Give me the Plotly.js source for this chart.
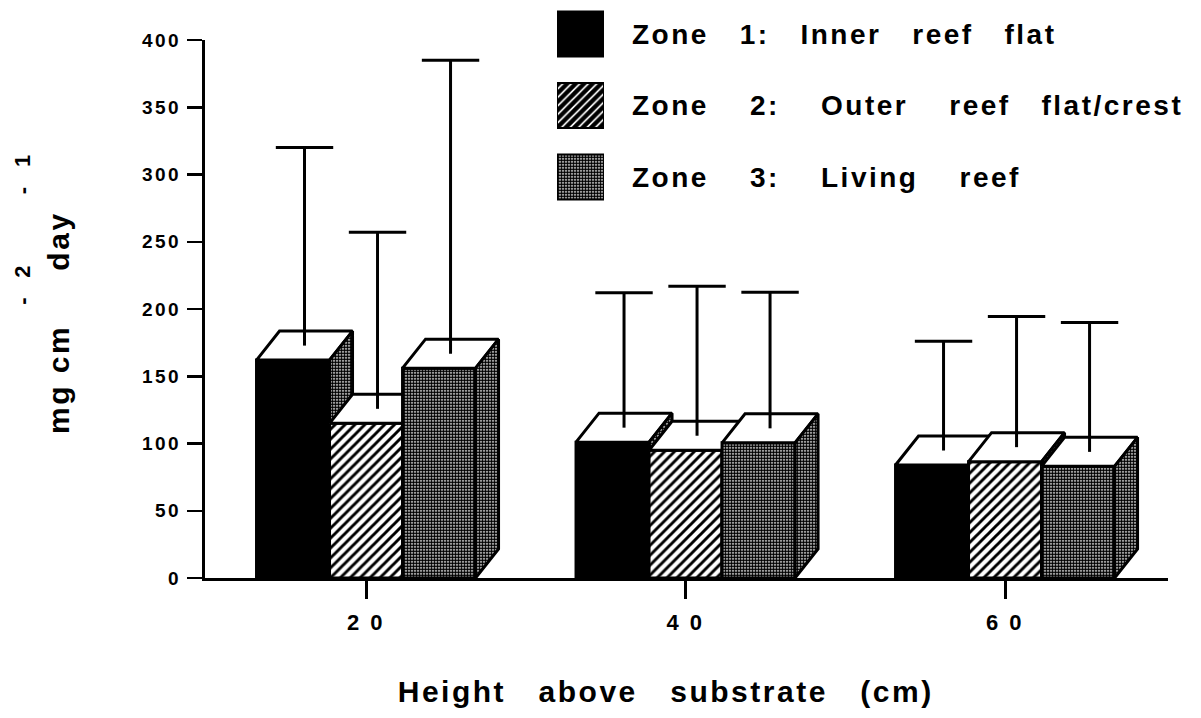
<!DOCTYPE html>
<html>
<head>
<meta charset="utf-8">
<script src="https://cdn.plot.ly/plotly-3.0.1.min.js"></script>
<style>
  html, body { margin: 0; padding: 0; background: #ffffff; }
  #chart { width: 1201px; height: 718px; }
  .js-plotly-plot .plotly text { letter-spacing: 2.5px; }
</style>
</head>
<body>
<div id="chart"></div>
<script>
// ---------------- data ----------------
const categories = ['20', '40', '60'];              // height above substrate (cm)
const zoneNames = ['Zone 1: Inner reef flat', 'Zone 2: Outer reef flat/crest', 'Zone 3: Living reef'];
const zone1Mean = [162, 101, 84];
const zone2Mean = [115, 95, 86.5];
const zone3Mean = [156, 100.5, 83];
const zone1SD = [158, 111, 92];
const zone2SD = [142, 122, 108];
const zone3SD = [229, 112, 107];
const xTitle = 'Height above substrate (cm)';
const yUnits = ['mg', 'cm', 'day'];
const yExponents = ['', '-2', '-1'];

// ---------------- style ----------------
const W = 1201, H = 718;
const M = { l: 205, r: 33, t: 5, b: 140 };
const plotW = W - M.l - M.r;
const plotH = H - M.t - M.b;
const mainAxisPx = 538;                 // pixel height of the 0..400 y axis
const yRange = [0, 400];
const xRange = [-0.504, 2.51];
const BAR_GAP = 0.3145;
const DEPTH_X_PX = 23, DEPTH_Y_PX = 29;
const CAP_PX = 41;
const FONT = 'Liberation Sans, Arial, Helvetica, sans-serif';
const NB = '\u00A0';
const pxToPaperX = px => (px - M.l) / plotW;
const pxToPaperY = py => (H - M.b - py) / plotH;

const means = [zone1Mean, zone2Mean, zone3Mean];
const sds = [zone1SD, zone2SD, zone3SD];
const nZ = means.length;
const barW = (1 - BAR_GAP) / nZ;
const dx = DEPTH_X_PX * (xRange[1] - xRange[0]) / plotW;
const dy = DEPTH_Y_PX * (yRange[1] - yRange[0]) / mainAxisPx;

const stipple = { shape: '.', fgcolor: '#000000', bgcolor: '#ffffff', size: 3, solidity: 0.72 };
const hatch = { shape: '/', fgcolor: '#000000', bgcolor: '#ffffff', size: 7, solidity: 0.42 };
const frontStyles = [
  { fillcolor: '#000000' },
  { fillcolor: '#ffffff', fillpattern: hatch },
  { fillcolor: '#ffffff', fillpattern: stipple }
];
const outline = { color: '#000000', width: 3 };

function polyTrace(xs, ys, style) {
  return Object.assign({
    type: 'scatter', mode: 'lines', x: xs, y: ys, fill: 'toself',
    line: outline, hoverinfo: 'skip', showlegend: false
  }, style);
}

const traces = [];
for (let z = 0; z < nZ; z++) {
  const fx = [], fy = [], tx = [], ty = [], sx = [], sy = [];
  categories.forEach((c, g) => {
    const v = means[z][g];
    const xc = g + (z - (nZ - 1) / 2) * barW;
    const x0 = xc - barW / 2, x1 = xc + barW / 2;
    fx.push(x0, x1, x1, x0, x0, null); fy.push(0, 0, v, v, 0, null);
    tx.push(x0, x1, x1 + dx, x0 + dx, x0, null); ty.push(v, v, v + dy, v + dy, v, null);
    sx.push(x1, x1 + dx, x1 + dx, x1, x1, null); sy.push(0, dy, v + dy, v, 0, null);
  });
  traces.push(polyTrace(fx, fy, frontStyles[z]));
  traces.push(polyTrace(tx, ty, { fillcolor: '#ffffff' }));
  traces.push(polyTrace(sx, sy, { fillcolor: '#ffffff', fillpattern: stipple }));
}
// error bars (upper only): cap at mean + SD, stem down to the centre of the top face
for (let z = 0; z < nZ; z++) {
  traces.push({
    type: 'scatter', mode: 'markers', hoverinfo: 'skip', showlegend: false,
    x: categories.map((c, g) => g + (z - (nZ - 1) / 2) * barW + dx / 2),
    y: means[z].map((v, g) => v + sds[z][g]),
    marker: { symbol: 'line-ew', size: CAP_PX, color: '#000000', line: { color: '#000000', width: 3 } },
    error_y: {
      type: 'data', symmetric: false,
      array: sds[z].map(() => 0),
      arrayminus: sds[z].map(s => s - dy / 2),
      color: '#000000', thickness: 3, width: 0
    }
  });
}
// legend swatches as bars in a small subplot
const legendStyles = [
  { color: '#000000', pattern: { shape: '' } },
  { color: '#000000', pattern: { shape: '/', fgcolor: '#000000', bgcolor: '#ffffff', size: 6, solidity: 0.72 } },
  { color: '#ffffff', pattern: { shape: '.', fgcolor: '#000000', bgcolor: '#ffffff', size: 3, solidity: 0.72 } }
];
zoneNames.forEach((name, z) => {
  traces.push({
    type: 'bar', orientation: 'h', xaxis: 'x2', yaxis: 'y2',
    x: [1], y: [z], base: 0, width: 0.63, name: name,
    marker: Object.assign({ line: { color: '#000000', width: 2 } }, legendStyles[z]),
    hoverinfo: 'skip', showlegend: false
  });
});

// wide word spacing as in the original typesetting
const spacedGaps = (s, gaps) => s.split(' ').reduce((acc, w, i) => i === 0 ? w : acc + NB.repeat(gaps[i - 1]) + w, '');
const legendGaps = [[3, 3, 3, 3], [4, 4, 4, 3], [4, 4, 4]];

// y title: exponents set on a raised line above the unit names (left-aligned lines)
const expText = e => e.split('').join(NB + NB);
const yMain = yUnits[0] + NB + yUnits[1] + NB.repeat(5) + yUnits[2];
const yExp = '<span style="font-size:22px">' + NB.repeat(15) + expText(yExponents[1]) +
  NB.repeat(8) + expText(yExponents[2]) + '</span>';
const yTitle = yExp + '<br>' + yMain;

const legTop = 9, legBot = 202;           // px
const legLeft = 557, legRight = 604;      // px

const layout = {
  width: W, height: H,
  margin: M,
  paper_bgcolor: '#ffffff', plot_bgcolor: 'rgba(0,0,0,0)',
  showlegend: false,
  font: { family: FONT, color: '#000000', weight: 'bold' },
  xaxis: {
    domain: [0, 1], range: xRange, anchor: 'y',
    tickvals: categories.map((c, g) => g),
    ticktext: categories.map(c => c.split('').join(NB)),
    ticks: 'outside', ticklen: 18, tickwidth: 3, tickcolor: '#000000',
    showline: true, linewidth: 3, linecolor: '#000000',
    showgrid: false, zeroline: false, fixedrange: true,
    tickfont: { size: 22, family: FONT, weight: 'bold' },
    ticklabelstandoff: 5
  },
  yaxis: {
    domain: [0, mainAxisPx / plotH], range: yRange, anchor: 'x',
    tick0: 0, dtick: 50,
    ticks: 'outside', ticklen: 15, tickwidth: 2.5, tickcolor: '#000000',
    showline: true, linewidth: 3, linecolor: '#000000',
    showgrid: false, zeroline: false, fixedrange: true,
    tickfont: { size: 19, family: FONT, weight: 'bold' },
    ticklabelstandoff: 2
  },
  xaxis2: {
    domain: [pxToPaperX(legLeft), pxToPaperX(legRight)],
    range: [0, 1], anchor: 'y2', visible: false, fixedrange: true
  },
  yaxis2: {
    domain: [pxToPaperY(legBot), pxToPaperY(legTop)],
    range: [2.35, -0.35], anchor: 'x2', side: 'right',
    tickvals: zoneNames.map((n, z) => z),
    ticktext: zoneNames.map((n, z) => spacedGaps(n, legendGaps[z])),
    ticks: '', showline: false, showgrid: false, zeroline: false, fixedrange: true,
    tickfont: { size: 28, family: FONT, weight: 'bold' },
    ticklabelstandoff: 27
  },
  annotations: [
    {
      text: spacedGaps(xTitle, [3, 3, 3]), showarrow: false,
      xref: 'paper', yref: 'paper', x: pxToPaperX(665), y: pxToPaperY(692),
      xanchor: 'center', yanchor: 'middle',
      font: { size: 30, family: FONT, weight: 'bold', color: '#000000' }
    },
    {
      text: yTitle, showarrow: false, textangle: -90, align: 'left',
      xref: 'paper', yref: 'paper', x: pxToPaperX(42), y: pxToPaperY(332),
      xanchor: 'center', yanchor: 'middle',
      font: { size: 30, family: FONT, weight: 'bold', color: '#000000' }
    }
  ]
};

Plotly.newPlot('chart', traces, layout, { staticPlot: true, displayModeBar: false });
</script>
</body>
</html>
